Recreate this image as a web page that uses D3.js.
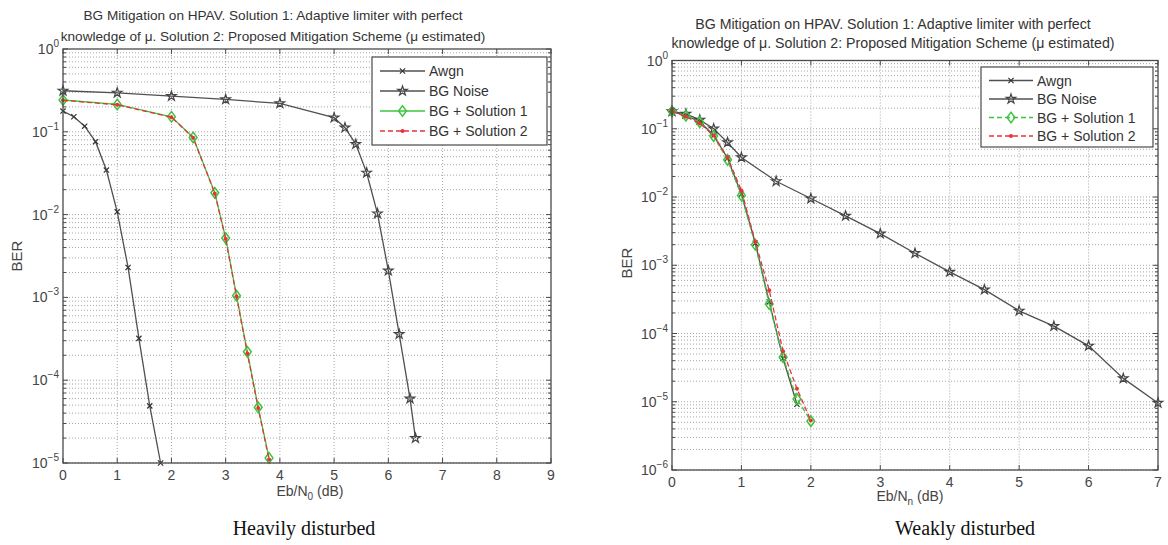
<!DOCTYPE html>
<html>
<head>
<meta charset="utf-8">
<script src="https://cdn.jsdelivr.net/npm/d3@7"></script>
<style>
  body { margin: 0; background: #fff; }
  svg { display: block; font-family: "Liberation Sans", Arial, sans-serif; }
</style>
</head>
<body>
<svg id="fig" width="1168" height="545"></svg>
<script>
// ---- Shared labels ----
const titleLines = [
  "BG Mitigation on HPAV. Solution 1: Adaptive limiter with perfect",
  "knowledge of \u03bc. Solution 2: Proposed Mitigation Scheme (\u03bc estimated)"
];
const legendNames = ["Awgn", "BG Noise", "BG + Solution 1", "BG + Solution 2"];
const yLabel = "BER";

// ---- Heavily disturbed channel ----
const heavyXTicks = [0, 1, 2, 3, 4, 5, 6, 7, 8, 9];
const heavyExpTicks = [0, -1, -2, -3, -4, -5];
const heavyAwgnX   = [0, 0.2, 0.4, 0.6, 0.8, 1.0, 1.2, 1.4, 1.6, 1.8];
const heavyAwgnBer = [0.178, 0.152, 0.117, 0.076, 0.0345, 0.0108, 0.0023, 0.00032, 0.000049, 0.00001];
const heavyNoiseX   = [0, 1, 2, 3, 4, 5, 5.2, 5.4, 5.6, 5.8, 6.0, 6.2, 6.4, 6.5];
const heavyNoiseBer = [0.313, 0.296, 0.27, 0.246, 0.22, 0.148, 0.112, 0.071, 0.032, 0.0103, 0.0021, 0.00036, 0.00006, 0.00002];
const heavySolX    = [0, 1, 2, 2.4, 2.8, 3.0, 3.2, 3.4, 3.6, 3.8];
const heavySol1Ber = [0.242, 0.214, 0.152, 0.0855, 0.0183, 0.0052, 0.00105, 0.00022, 0.000047, 0.0000115];
const heavySol2Ber = [0.240, 0.212, 0.150, 0.0850, 0.0180, 0.0051, 0.00103, 0.00021, 0.000046, 0.0000110];

// ---- Weakly disturbed channel ----
const weakXTicks = [0, 1, 2, 3, 4, 5, 6, 7];
const weakExpTicks = [0, -1, -2, -3, -4, -5, -6];
const weakAwgnX   = [0, 0.2, 0.4, 0.6, 0.8, 1.0, 1.2, 1.4, 1.6, 1.8];
const weakAwgnBer = [0.18, 0.155, 0.127, 0.08, 0.037, 0.011, 0.0021, 0.00029, 0.000043, 0.0000092];
const weakNoiseX   = [0, 0.2, 0.4, 0.6, 0.8, 1.0, 1.5, 2.0, 2.5, 3.0, 3.5, 4.0, 4.5, 5.0, 5.5, 6.0, 6.5, 7.0];
const weakNoiseBer = [0.18, 0.165, 0.135, 0.1, 0.063, 0.038, 0.017, 0.0095, 0.0053, 0.0029, 0.0015, 0.0008, 0.00044, 0.000215, 0.000128, 0.000066, 0.000022, 0.0000096];
const weakSolX    = [0, 0.2, 0.4, 0.6, 0.8, 1.0, 1.2, 1.4, 1.6, 1.8, 2.0];
const weakSol1Ber = [0.18, 0.155, 0.125, 0.078, 0.035, 0.0105, 0.002, 0.00027, 0.000045, 0.000011, 0.0000052];
const weakSol2Ber = [0.18, 0.150, 0.120, 0.080, 0.038, 0.0125, 0.0022, 0.00043, 0.000055, 0.0000155, 0.0000053];

const svg = d3.select("#fig");

const GREEN = "#3cc43c";
const RED = "#e8323a";
const GREY = "#505050";

// Marker painters
function drawMarker(g, kind, x, y, color) {
  if (kind === "x") {
    const s = 2.6;
    g.append("path").attr("d", `M${x - s},${y - s}L${x + s},${y + s}M${x - s},${y + s}L${x + s},${y - s}`)
      .attr("stroke", color).attr("stroke-width", 1.2).attr("fill", "none");
  } else if (kind === "star") {
    g.append("path").attr("d", d3.symbol(d3.symbolStar, 28)())
      .attr("transform", `translate(${x},${y})`)
      .attr("stroke", color).attr("stroke-width", 1.2).attr("fill", "none");
  } else if (kind === "diamond") {
    g.append("path").attr("d", d3.symbol(d3.symbolDiamond, 40)())
      .attr("transform", `translate(${x},${y}) scale(1.15,0.9)`)
      .attr("stroke", color).attr("stroke-width", 1.4).attr("fill", "none");
  } else if (kind === "dot") {
    g.append("circle").attr("cx", x).attr("cy", y).attr("r", 2)
      .attr("fill", color);
  }
}

function drawPanel(p) {
  const x = d3.scaleLinear().domain([0, d3.max(p.xTicks)]).range([p.left, p.right]);
  const y = d3.scaleLog().domain([Math.pow(10, d3.min(p.expTicks)), 1]).range([p.bottom, p.top]);
  const g = svg.append("g");

  // grid: vertical at integer ticks, horizontal at decades and 2..9 subdivisions
  const grid = g.append("g").attr("stroke", "#a6a6a6").attr("stroke-width", 1).attr("stroke-dasharray", "1,2");
  p.xTicks.slice(1, -1).forEach(t => {
    grid.append("line").attr("x1", x(t)).attr("x2", x(t)).attr("y1", p.top).attr("y2", p.bottom);
  });
  const minorVals = [];
  p.expTicks.forEach(e => {
    if (e === 0) return;
    for (let m = 1; m <= 9; m++) minorVals.push(m * Math.pow(10, e));
  });
  minorVals.forEach(v => {
    grid.append("line").attr("x1", p.left).attr("x2", p.right).attr("y1", y(v)).attr("y2", y(v));
  });

  // series
  p.series.forEach(s => {
    const pts = s.xs.map((xv, i) => [x(xv), y(s.ys[i])]);
    g.append("path").attr("d", d3.line()(pts))
      .attr("fill", "none").attr("stroke", s.color).attr("stroke-width", s.width || 1.3)
      .attr("stroke-dasharray", s.dash || null);
    pts.forEach(pt => drawMarker(g, s.marker, pt[0], pt[1], s.markerColor || s.color));
  });

  // axes box
  g.append("rect").attr("x", p.left).attr("y", p.top)
    .attr("width", p.right - p.left).attr("height", p.bottom - p.top)
    .attr("fill", "none").attr("stroke", "#4a4a4a").attr("stroke-width", 1.3);

  // ticks (inward, all four sides)
  const tk = g.append("g").attr("stroke", "#4a4a4a").attr("stroke-width", 1);
  p.xTicks.forEach(t => {
    tk.append("line").attr("x1", x(t)).attr("x2", x(t)).attr("y1", p.bottom).attr("y2", p.bottom - 5);
    tk.append("line").attr("x1", x(t)).attr("x2", x(t)).attr("y1", p.top).attr("y2", p.top + 5);
  });
  p.expTicks.forEach(e => {
    const yy = y(Math.pow(10, e));
    tk.append("line").attr("x1", p.left).attr("x2", p.left + 5).attr("y1", yy).attr("y2", yy);
    tk.append("line").attr("x1", p.right).attr("x2", p.right - 5).attr("y1", yy).attr("y2", yy);
  });
  minorVals.forEach(v => {
    if (Math.abs(Math.log10(v) - Math.round(Math.log10(v))) < 1e-9) return;
    const yy = y(v);
    tk.append("line").attr("x1", p.left).attr("x2", p.left + 3).attr("y1", yy).attr("y2", yy);
    tk.append("line").attr("x1", p.right).attr("x2", p.right - 3).attr("y1", yy).attr("y2", yy);
  });

  // tick labels
  p.xTicks.forEach(t => {
    g.append("text").attr("x", x(t)).attr("y", p.bottom + 17)
      .attr("text-anchor", "middle").attr("font-size", 14).attr("fill", "#444").text(t);
  });
  p.expTicks.forEach(e => {
    const t = g.append("text").attr("x", p.left - 4).attr("y", y(Math.pow(10, e)) + 5)
      .attr("text-anchor", "end").attr("font-size", 14).attr("fill", "#444");
    t.append("tspan").text("10");
    t.append("tspan").attr("dy", -7).attr("font-size", 10).text(e === 0 ? "0" : "\u2212" + (-e));
  });

  // axis titles
  const xl = g.append("text").attr("x", p.xLabelX).attr("y", p.xLabelY)
    .attr("text-anchor", "middle").attr("font-size", 14).attr("fill", "#444");
  xl.append("tspan").text("Eb/N");
  xl.append("tspan").attr("dy", 4).attr("font-size", 10).text(p.xSub);
  xl.append("tspan").attr("dy", -4).text(" (dB)");
  g.append("text").attr("transform", `translate(${p.yLabelX},${p.yLabelY}) rotate(-90)`)
    .attr("text-anchor", "middle").attr("font-size", 15).attr("fill", "#444").text(yLabel);

  // title
  titleLines.forEach((line, i) => {
    g.append("text").attr("x", p.titleX).attr("y", p.titleY + i * p.titleGap)
      .attr("text-anchor", "middle").attr("font-size", p.titleSize).attr("fill", "#333").text(line);
  });

  // legend
  const lg = p.legend;
  g.append("rect").attr("x", lg.x).attr("y", lg.y).attr("width", lg.w).attr("height", lg.h)
    .attr("fill", "#fff").attr("stroke", "#4a4a4a").attr("stroke-width", 1.2);
  p.series.forEach((s, i) => {
    const yy = lg.y + lg.first + i * lg.step;
    g.append("line").attr("x1", lg.x + 8).attr("x2", lg.x + 8 + lg.sample).attr("y1", yy).attr("y2", yy)
      .attr("stroke", s.color).attr("stroke-width", s.width || 1.3).attr("stroke-dasharray", s.dash || null);
    drawMarker(g, s.marker, lg.x + 8 + lg.sample / 2, yy, s.markerColor || s.color);
    g.append("text").attr("x", lg.x + 8 + lg.sample + 4).attr("y", yy + 5)
      .attr("font-size", 14).attr("fill", "#333").text(legendNames[i]);
  });

  // caption
  svg.append("text").attr("x", p.captionX).attr("y", 535)
    .attr("text-anchor", "middle").attr("font-family", "'Liberation Serif', 'Times New Roman', serif")
    .attr("font-size", 20).attr("fill", "#111").text(p.caption);
}

drawPanel({
  left: 63, right: 551, top: 49, bottom: 463,
  xTicks: heavyXTicks, expTicks: heavyExpTicks,
  series: [
    { xs: heavyAwgnX, ys: heavyAwgnBer, color: GREY, marker: "x", markerColor: "#333" },
    { xs: heavyNoiseX, ys: heavyNoiseBer, color: GREY, marker: "star", markerColor: "#444" },
    { xs: heavySolX, ys: heavySol1Ber, color: GREEN, marker: "diamond" },
    { xs: heavySolX, ys: heavySol2Ber, color: RED, marker: "dot", dash: "5,3" }
  ],
  xSub: "0", xLabelX: 310, xLabelY: 496,
  yLabelX: 22, yLabelY: 256,
  titleX: 273, titleY: 20, titleGap: 21, titleSize: 13.6,
  legend: { x: 372, y: 57, w: 175, h: 88, first: 14, step: 20, sample: 45 },
  caption: "Heavily disturbed", captionX: 304
});

drawPanel({
  left: 672, right: 1158, top: 60.5, bottom: 470,
  xTicks: weakXTicks, expTicks: weakExpTicks,
  series: [
    { xs: weakAwgnX, ys: weakAwgnBer, color: GREY, marker: "x", markerColor: "#333" },
    { xs: weakNoiseX, ys: weakNoiseBer, color: GREY, marker: "star", markerColor: "#444" },
    { xs: weakSolX, ys: weakSol1Ber, color: GREEN, marker: "diamond", dash: "5,3" },
    { xs: weakSolX, ys: weakSol2Ber, color: RED, marker: "dot", dash: "5,3" }
  ],
  xSub: "n", xLabelX: 910, xLabelY: 501,
  yLabelX: 632, yLabelY: 263,
  titleX: 893, titleY: 29, titleGap: 19, titleSize: 14.2,
  legend: { x: 981, y: 67, w: 172, h: 80, first: 13.5, step: 18.5, sample: 44 },
  caption: "Weakly disturbed", captionX: 965
});
</script>
</body>
</html>
